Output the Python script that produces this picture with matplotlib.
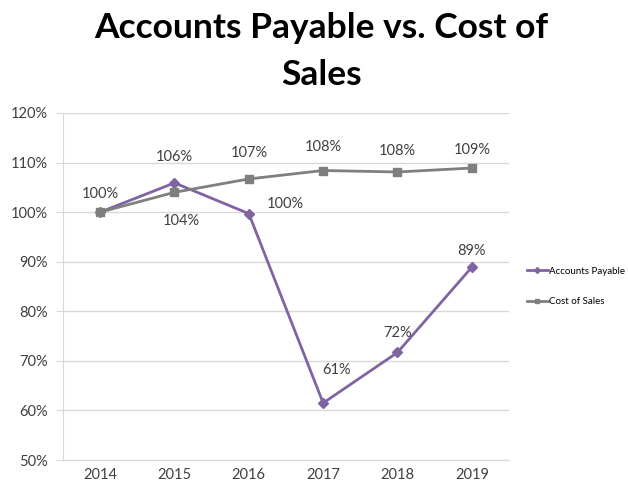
import matplotlib.pyplot as plt

years = ['2014', '2015', '2016', '2017', '2018', '2019']
accounts_payable = [100.0, 105.9, 99.7, 61.5, 71.7, 88.9]
cost_of_sales = [100.0, 104.0, 106.7, 108.4, 108.1, 108.9]
ap_labels = ['100%', '106%', '100%', '61%', '72%', '89%']
cos_labels = ['', '104%', '107%', '108%', '108%', '109%']

plt.rcParams['font.family'] = ['Lato', 'DejaVu Sans']

fig = plt.figure(figsize=(6.28, 4.93), dpi=100)
ax = fig.add_axes([0.1003, 0.0669, 0.7102, 0.7039])

x = list(range(len(years)))
purple = '#8064A2'
grey = '#7F7F7F'

ax.plot(x, accounts_payable, color=purple, lw=2, marker='D', ms=5,
        label='Accounts Payable', zorder=3)
ax.plot(x, cost_of_sales, color=grey, lw=2, marker='s', ms=6,
        label='Cost of Sales', zorder=3)

# data labels (offsets in points, like Excel label positions)
ap_offsets = [(0, 13), (0, 19), (26, 7), (10, 24), (0, 14), (0, 12)]
cos_offsets = [(0, 0), (5, -21), (0, 19), (0, 17), (0, 15), (0, 13)]
for i, (lab, off) in enumerate(zip(ap_labels, ap_offsets)):
    ax.annotate(lab, (x[i], accounts_payable[i]), xytext=off,
                textcoords='offset points', ha='center', va='center',
                fontsize=10.5, color='#404040')
for i, (lab, off) in enumerate(zip(cos_labels, cos_offsets)):
    if lab:
        ax.annotate(lab, (x[i], cost_of_sales[i]), xytext=off,
                    textcoords='offset points', ha='center', va='center',
                    fontsize=10.5, color='#404040')

ax.set_xlim(-0.5, len(years) - 0.5)
ax.set_ylim(50, 120)
ax.set_yticks(range(50, 121, 10))
ax.set_yticklabels([f'{v}%' for v in range(50, 121, 10)])
ax.set_xticks(x)
ax.set_xticklabels(years)
ax.tick_params(axis='both', labelsize=10.5, colors='#404040', length=0, pad=6)
ax.tick_params(axis='y', length=5, color='#D9D9D9', direction='out')
ax.grid(axis='y', color='#D9D9D9', lw=1)
ax.set_axisbelow(True)
for side in ['top', 'right']:
    ax.spines[side].set_visible(False)
ax.spines['left'].set_color('#D9D9D9')
ax.spines['bottom'].set_color('#D9D9D9')

fig.text(0.512, 0.975, 'Accounts Payable vs. Cost of\nSales', ha='center', va='top',
         fontsize=25.5, fontweight='bold', color='black', linespacing=1.55)

leg = ax.legend(loc='center left', bbox_to_anchor=(1.02, 0.5), frameon=False,
                fontsize=7, handlelength=2.2, labelspacing=2.2, handletextpad=0.1,
                markerscale=0.6)

fig.savefig('out.png', dpi=100)
